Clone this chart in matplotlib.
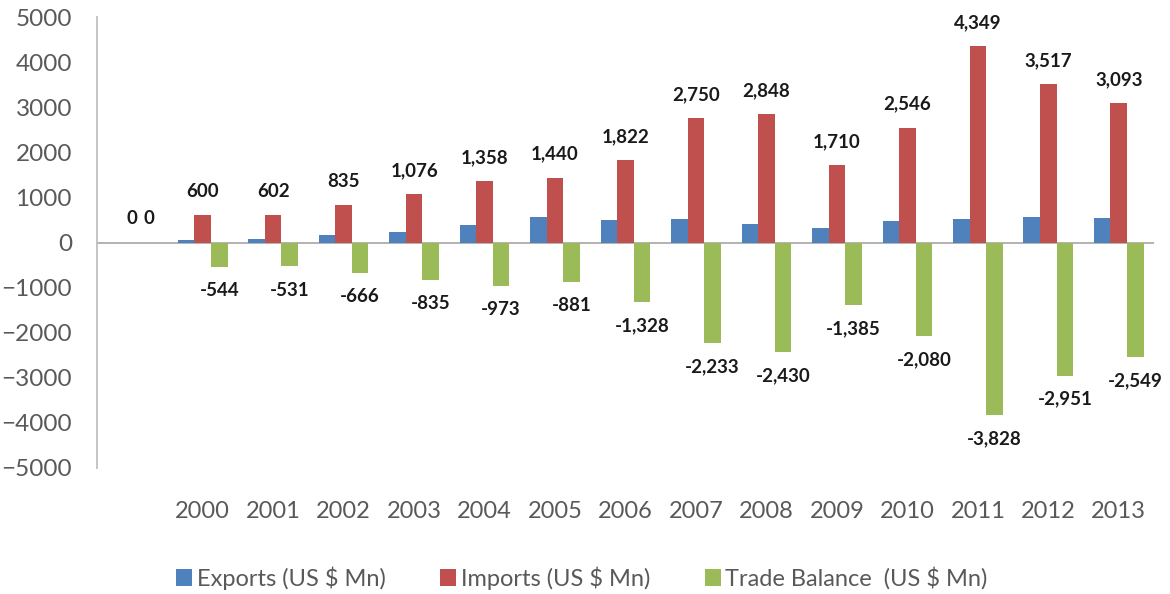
import numpy as np
import matplotlib
matplotlib.use("Agg")
import matplotlib.pyplot as plt

plt.rcParams['font.family'] = ['Lato', 'DejaVu Sans']

# first category is blank in the source chart (all zeros)
years = ["", "2000", "2001", "2002", "2003", "2004", "2005", "2006",
         "2007", "2008", "2009", "2010", "2011", "2012", "2013"]
exports = [0, 56, 71, 169, 241, 385, 559, 494, 517, 418, 325, 466, 521, 566, 544]
imports = [0, 600, 602, 835, 1076, 1358, 1440, 1822, 2750, 2848, 1710, 2546, 4349, 3517, 3093]
balance = [0, -544, -531, -666, -835, -973, -881, -1328, -2233, -2430, -1385, -2080, -3828, -2951, -2549]

c_exp = "#4F81BD"
c_imp = "#C0504D"
c_bal = "#9BBB59"
txt = "#595959"

fig = plt.figure(figsize=(11.7, 5.94), dpi=100)
ax = fig.add_axes([97/1170, 1-468/594, (1154-97)/1170, (468-17)/594])

x = np.arange(len(years))
w = 0.235
b1 = ax.bar(x - w, exports, w, color=c_exp, label="Exports (US $ Mn)")
b2 = ax.bar(x, imports, w, color=c_imp, label="Imports (US $ Mn)")
b3 = ax.bar(x + w, balance, w, color=c_bal, label="Trade Balance  (US $ Mn)")

def lbl(v):
    return "{:,}".format(v)

for xi, v in zip(x, imports):
    ax.annotate(lbl(v), (xi, v), xytext=(0, 17), textcoords="offset points",
                ha="center", va="center", fontsize=13.5, fontweight="bold", color="#1a1a1a")
for xi, v in zip(x + w, balance):
    off = 17 if v >= 0 else -17
    ax.annotate(lbl(v), (xi, v), xytext=(0, off), textcoords="offset points",
                ha="center", va="center", fontsize=13.5, fontweight="bold", color="#1a1a1a")

ax.set_xlim(-0.5, len(years) - 0.5)
ax.set_ylim(-5000, 5000)
ax.set_yticks(np.arange(-5000, 5001, 1000))
ax.tick_params(axis="y", length=0, pad=18, labelsize=17.5, labelcolor=txt)
ax.set_xticks(x)
ax.set_xticklabels(years)
ax.tick_params(axis="x", length=0, pad=24, labelsize=17, labelcolor=txt)
ax.axhline(0, color="#A6A6A6", lw=1.2, zorder=0)
for s in ["top", "right", "bottom"]:
    ax.spines[s].set_visible(False)
ax.spines["left"].set_color("#BFBFBF")
ax.spines["left"].set_linewidth(1.3)

fig.legend(handles=[b1, b2, b3], loc="center", bbox_to_anchor=(582/1170, 1-578/594),
           ncol=3, frameon=False, fontsize=17, labelcolor=txt, handlelength=0.68,
           handleheight=0.68, handletextpad=0.2, columnspacing=2.3)

fig.savefig("out.png", dpi=100)
